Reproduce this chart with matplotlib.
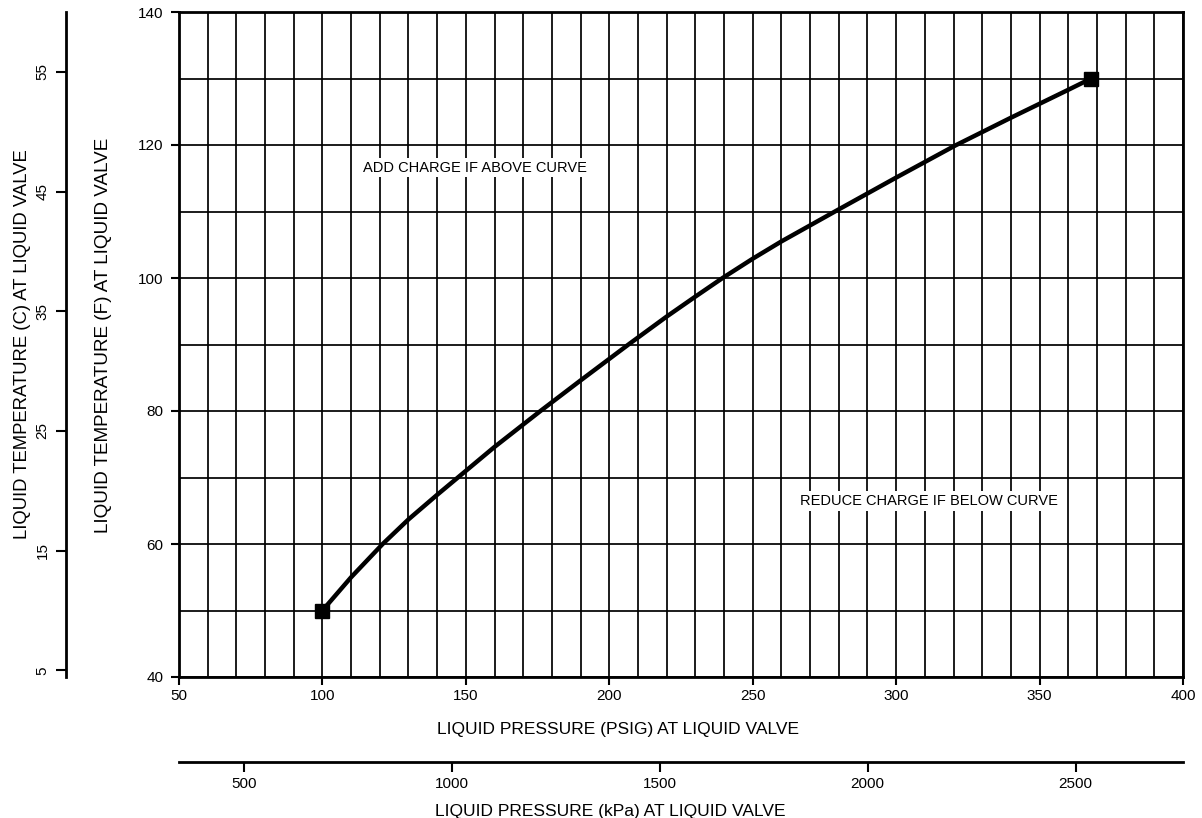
import numpy as np
import matplotlib.pyplot as plt
from matplotlib.ticker import MultipleLocator, FixedLocator

plt.rcParams['font.family'] = ['Liberation Sans', 'DejaVu Sans']

# charging curve: liquid pressure (psig) vs liquid temp (F)
pressure_psig = [100, 110, 121, 130, 140, 150, 160, 176, 190, 207, 220, 230,
                 239.5, 250, 260, 279.5, 300, 320.5, 340, 360, 368]
temp_f = [50, 55.0, 60, 63.7, 67.4, 71.0, 74.6, 80, 84.6, 90.1, 94.2, 97.2,
          100, 102.9, 105.5, 110.2, 115.1, 119.9, 124.1, 128.3, 130]

psig_ticks = [50, 100, 150, 200, 250, 300, 350, 400]
temp_f_ticks = [40, 60, 80, 100, 120, 140]
temp_c_ticks = [5, 15, 25, 35, 45, 55]
kpa_ticks = [500, 1000, 1500, 2000, 2500]

KPA_PER_PSI = 6.894757


def f2c(f):
    return (np.asarray(f) - 32.0) / 1.8


def c2f(c):
    return np.asarray(c) * 1.8 + 32.0


def psi2kpa(p):
    return np.asarray(p) * KPA_PER_PSI


def kpa2psi(k):
    return np.asarray(k) / KPA_PER_PSI


fig = plt.figure(figsize=(12.02, 8.18), dpi=100)
ax = fig.add_axes([179 / 1202, 1 - 677 / 818, 1004 / 1202, 665 / 818])

ax.plot(pressure_psig, temp_f, color='black', lw=3.2, solid_joinstyle='round', zorder=3)
ax.plot([pressure_psig[0], pressure_psig[-1]], [temp_f[0], temp_f[-1]],
        ls='none', marker='s', ms=10, color='black', zorder=4)

ax.set_xlim(50, 400)
ax.set_ylim(40, 140)
ax.xaxis.set_major_locator(FixedLocator(psig_ticks))
ax.yaxis.set_major_locator(FixedLocator(temp_f_ticks))
ax.xaxis.set_minor_locator(MultipleLocator(10))
ax.yaxis.set_minor_locator(MultipleLocator(10))
ax.grid(which='both', color='black', lw=1.25)
ax.set_axisbelow(True)
ax.tick_params(which='major', direction='out', length=6, width=1.5,
               labelsize=11, color='black')
ax.tick_params(axis='x', which='major', pad=3)
ax.tick_params(axis='y', which='major', pad=5)
ax.tick_params(which='minor', length=0)
for sp in ax.spines.values():
    sp.set_linewidth(2)

ax.set_xlabel('LIQUID PRESSURE (PSIG) AT LIQUID VALVE', fontsize=12.5,
              x=0.437, labelpad=13)
ax.set_ylabel('LIQUID TEMPERATURE (F) AT LIQUID VALVE', fontsize=13.6,
              y=0.514, labelpad=19)

# celsius scale on the far left
cax = ax.secondary_yaxis(-0.1125, functions=(f2c, c2f))
cax.yaxis.set_major_locator(FixedLocator(temp_c_ticks))
cax.tick_params(direction='out', length=7, width=1.5, labelsize=11,
                labelrotation=90, pad=5)
cax.spines['left'].set_linewidth(2)
for lbl in cax.get_yticklabels():
    lbl.set_va('center')
cax.set_ylabel('LIQUID TEMPERATURE (C) AT LIQUID VALVE', fontsize=13.3, labelpad=3)

# kPa scale below
kax = ax.secondary_xaxis(-0.128, functions=(psi2kpa, kpa2psi))
kax.xaxis.set_major_locator(FixedLocator(kpa_ticks))
kax.tick_params(direction='out', length=7, width=1.5, labelsize=11, pad=4)
kax.spines['bottom'].set_linewidth(2)
kax.set_xlabel('LIQUID PRESSURE (kPa) AT LIQUID VALVE', fontsize=12.5,
               x=0.43, labelpad=9)

note_box = dict(facecolor='white', edgecolor='none', pad=2)
ax.text(153, 116.6, 'ADD CHARGE IF ABOVE CURVE', fontsize=10.5,
        ha='center', va='center', bbox=note_box, zorder=2)
ax.text(311.5, 66.5, 'REDUCE CHARGE IF BELOW CURVE', fontsize=10.5,
        ha='center', va='center', bbox=note_box, zorder=2)

fig.savefig('out.png', dpi=100)
